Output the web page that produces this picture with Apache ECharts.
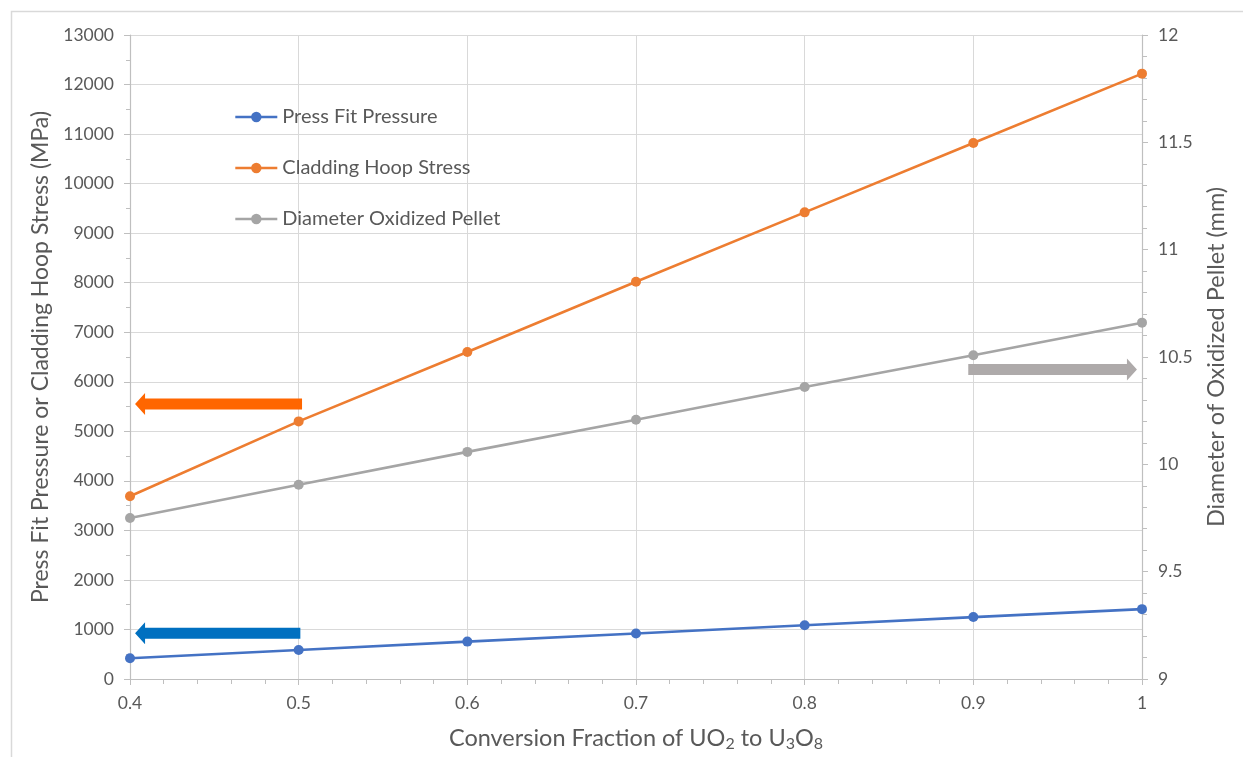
<!DOCTYPE html>
<html>
<head>
<meta charset="utf-8">
<script src="https://cdn.jsdelivr.net/npm/echarts@6/dist/echarts.min.js"></script>
<style>
html,body{margin:0;padding:0;background:#fff;overflow:hidden;}
#c{width:1243px;height:757px;}
</style>
</head>
<body>
<div id="c"></div>
<script>
// ---- data ----
const conversion = [0.4, 0.5, 0.6, 0.7, 0.8, 0.9, 1.0];
const pressFitPressure = [420, 585, 755, 920, 1085, 1250, 1410];
const claddingHoopStress = [3690, 5200, 6600, 8020, 9420, 10820, 12220];
const diameterOxidizedPellet = [9.75, 9.905, 10.058, 10.208, 10.36, 10.508, 10.66];
const seriesNames = ['Press Fit Pressure', 'Cladding Hoop Stress', 'Diameter Oxidized Pellet'];
// annotation arrows: [tipX, tailX, y]
const leftArrows = [[0.403, 0.502, 5550], [0.403, 0.501, 925]];
const rightArrows = [[0.997, 0.897, 10.442]];

const FONT = 'Lato';
const TXT = '#595959';
const AX = '#BFBFBF';
const GRID = '#D9D9D9';
const colors = ['#4472C4', '#ED7D31', '#A5A5A5'];
const leftArrowColors = ['#FF6600', '#0070C0'];
const rightArrowColors = ['#AEAAAA'];

function arrowRender(arrowColors) {
  return function (params, api) {
    const tip = api.coord([api.value(0), api.value(2)]);
    const tail = api.coord([api.value(1), api.value(2)]);
    const dir = tip[0] > tail[0] ? 1 : -1;
    const h = 5.5, H = 11, L = 10;
    const y = tip[1];
    const nx = tip[0] - dir * L;
    return {
      type: 'polygon',
      shape: { points: [
        [tail[0], y - h], [nx, y - h], [nx, y - H], [tip[0], y],
        [nx, y + H], [nx, y + h], [tail[0], y + h]
      ] },
      style: { fill: arrowColors[params.dataIndex] }
    };
  };
}

const chart = echarts.init(document.getElementById('c'));
const lineSeries = [pressFitPressure, claddingHoopStress, diameterOxidizedPellet].map((vals, i) => ({
  name: seriesNames[i],
  type: 'line',
  yAxisIndex: i === 2 ? 1 : 0,
  data: conversion.map((x, j) => [x, vals[j]]),
  symbol: 'circle',
  symbolSize: 10,
  lineStyle: { width: 2.6, color: colors[i] },
  itemStyle: { color: colors[i] },
  z: 3
}));

const plain = v => String(v);

chart.setOption({
  animation: false,
  backgroundColor: '#fff',
  color: colors,
  graphic: [{
    type: 'rect', left: 9, top: 9,
    shape: { width: 1260, height: 780 },
    style: { fill: 'none', stroke: '#D9D9D9', lineWidth: 1.5 },
    silent: true, z: -10
  }],
  grid: { left: 130, right: 101, top: 35, bottom: 73, containLabel: false },
  legend: {
    data: seriesNames,
    orient: 'vertical',
    left: 229, top: 101,
    itemWidth: 42, itemHeight: 13, itemGap: 29,
    lineStyle: { width: 2.6 },
    textStyle: { fontFamily: FONT, fontSize: 20, color: TXT, lineHeight: 22 }
  },
  xAxis: {
    type: 'value', min: 0.4, max: 1, interval: 0.1,
    name: 'Conversion Fraction of UO{s|2} to U{s|3}O{s|8}',
    nameLocation: 'middle', nameGap: 45,
    nameTextStyle: {
      fontFamily: FONT, fontSize: 23.5, color: TXT, lineHeight: 28,
      rich: { s: { fontFamily: FONT, fontSize: 16, color: TXT, lineHeight: 16, verticalAlign: 'bottom' } }
    },
    axisLine: { show: true, lineStyle: { color: AX, width: 1.2 } },
    axisTick: { show: true, length: 6, lineStyle: { color: AX } },
    minorTick: { show: true, splitNumber: 5, length: 5, lineStyle: { color: AX } },
    axisLabel: { fontFamily: FONT, fontSize: 17.5, color: TXT, margin: 15, formatter: plain },
    splitLine: { show: true, lineStyle: { color: GRID, width: 1 } }
  },
  yAxis: [{
    type: 'value', min: 0, max: 13000, interval: 1000, position: 'left',
    name: 'Press Fit Pressure or Cladding Hoop Stress (MPa)',
    nameLocation: 'middle', nameGap: 75,
    nameTextStyle: { fontFamily: FONT, fontSize: 23, color: TXT },
    axisLine: { show: true, lineStyle: { color: AX, width: 1.2 } },
    axisTick: { show: true, length: 6, lineStyle: { color: AX } },
    minorTick: { show: true, splitNumber: 2, length: 4, lineStyle: { color: AX } },
    axisLabel: { fontFamily: FONT, fontSize: 17.5, color: TXT, margin: 16, formatter: plain },
    splitLine: { show: true, lineStyle: { color: GRID, width: 1 } }
  }, {
    type: 'value', min: 9, max: 12, interval: 0.5, position: 'right',
    name: 'Diameter of Oxidized Pellet (mm)',
    nameLocation: 'middle', nameGap: 62, nameRotate: 90,
    nameTextStyle: { fontFamily: FONT, fontSize: 23.5, color: TXT },
    axisLine: { show: true, lineStyle: { color: AX, width: 1.2 } },
    axisTick: { show: true, length: 6, lineStyle: { color: AX } },
    minorTick: { show: true, splitNumber: 5, length: 5, lineStyle: { color: AX } },
    axisLabel: { fontFamily: FONT, fontSize: 17.5, color: TXT, margin: 16, formatter: plain },
    splitLine: { show: false }
  }],
  series: lineSeries.concat([{
    name: 'leftArrows', type: 'custom', yAxisIndex: 0,
    renderItem: arrowRender(leftArrowColors),
    data: leftArrows, z: 4, silent: true
  }, {
    name: 'rightArrows', type: 'custom', yAxisIndex: 1,
    renderItem: arrowRender(rightArrowColors),
    data: rightArrows, z: 4, silent: true
  }])
});
</script>
</body>
</html>
